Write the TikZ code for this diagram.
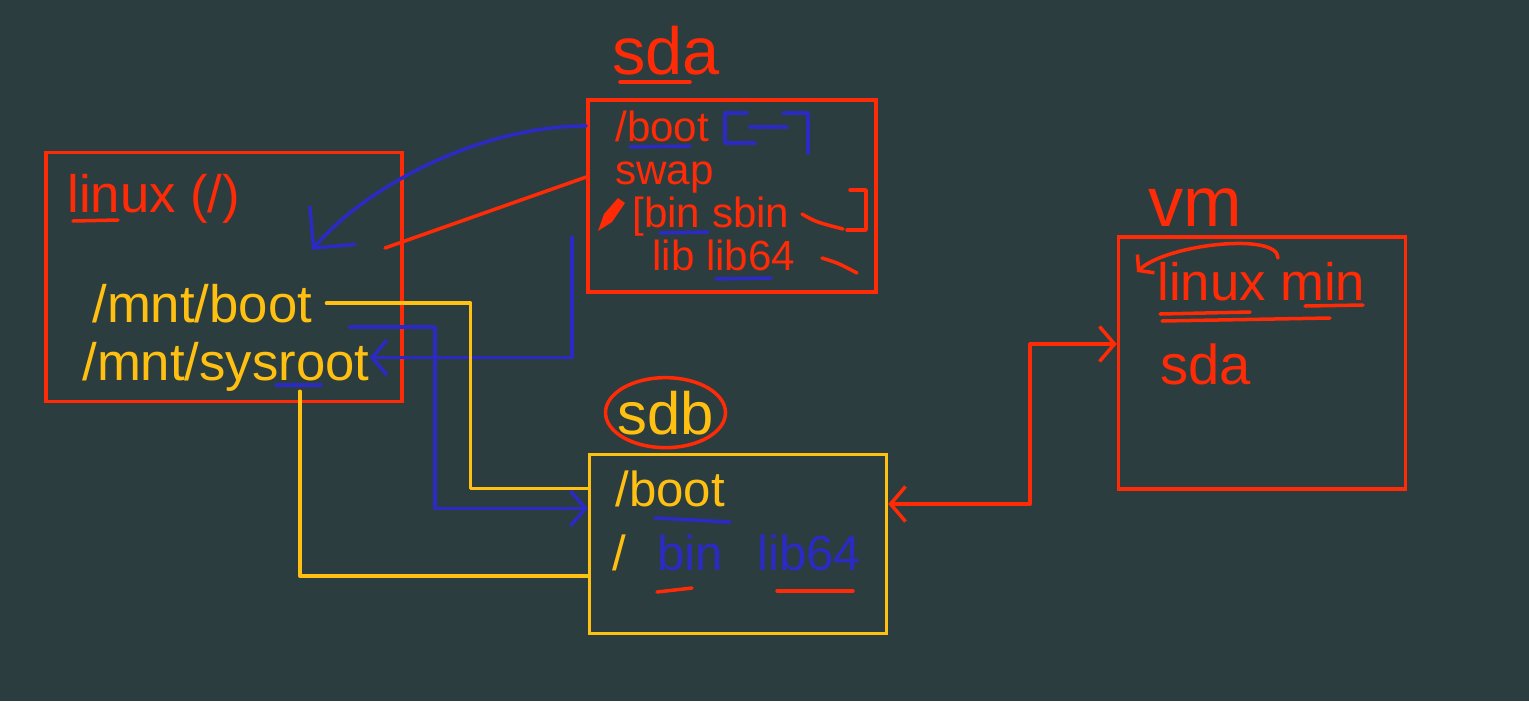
\documentclass[tikz,border=0pt]{standalone}
\usepackage{fontspec}
\setmainfont{Liberation Sans}
\usetikzlibrary{arrows.meta, positioning, calc}
\definecolor{board}{RGB}{43,61,63}
\definecolor{penred}{RGB}{255,42,6}
\definecolor{penyellow}{RGB}{255,192,18}
\definecolor{penblue}{RGB}{44,42,196}
\tikzset{
  redpen/.style={draw=penred, line width=2pt, line cap=round, line join=round},
  yellowpen/.style={draw=penyellow, line width=2pt, line cap=round, line join=round},
  bluepen/.style={draw=penblue, line width=2pt, line cap=round, line join=round},
  disk/.style={rectangle, line width=2pt, inner sep=0pt},
  chalk/.style={inner sep=0pt, anchor=base west},
}
\newcommand{\chalksize}[1]{\fontsize{#1}{#1}\selectfont}

\begin{document}
\begin{tikzpicture}[x=0.02cm, y=-0.02cm, >={Straight Barb[length=3mm,width=7mm]}]
    % lavagna
    \fill[board] (0,0) rectangle (1529,701);
    \useasboundingbox (0,0) rectangle (1529,701);

    % dischi
    \node[disk, draw=penred, minimum width=7.12cm, minimum height=4.98cm] (linuxbox) at (224,277) {};
    \node[disk, draw=penred, minimum width=5.76cm, minimum height=3.84cm] (sdabox) at (732,196) {};
    \node[disk, draw=penyellow, minimum width=5.94cm, minimum height=3.58cm] (sdbbox) at (738,544) {};
    \node[disk, draw=penred, minimum width=5.74cm, minimum height=5.04cm] (vmbox) at (1262,363) {};

    % linux
    \node[chalk, text=penred, font=\chalksize{30}] (linuxlbl) at (67,212) {linux (/)};
    \draw[redpen] (73,221) -- (118,220);
    \node[chalk, text=penyellow, font=\chalksize{30}] (mntboot) at (92,322) {/mnt/boot};
    \node[chalk, text=penyellow, font=\chalksize{30}] (mntroot) at (82,380) {/mnt/sysroot};
    \draw[bluepen] (276,385) -- (321,385);

    % sda
    \node[chalk, text=penred, font=\chalksize{38}] (sdalbl) at (612,74) {sda};
    \draw[redpen] (620,82) -- (690,82);
    \node[chalk, text=penred, font=\chalksize{24}] (sdaboot) at (615,141) {/boot};
    \draw[bluepen] (630,147) -- (690,146);
    \draw[bluepen] (747,113) -- (725,113) -- (725,143) -- (755,143);
    \draw[bluepen] (750,127) -- (787,127);
    \draw[bluepen] (783,113) -- (808,113) -- (808,153);
    \node[chalk, text=penred, font=\chalksize{24}] (sdaswap) at (615,184) {swap};
    \fill[penred] (598,231) -- (604,214) -- (618,198) -- (625,203) -- (612,222) -- cycle;
    \node[chalk, text=penred, font=\chalksize{24}] (sdabin) at (632,227) {[bin sbin};
    \draw[bluepen] (660,233) -- (708,232);
    \draw[redpen] (802,214) .. controls (816,222) .. (843,229);
    \draw[redpen] (850,190) -- (866,190) -- (866,230) -- (847,230);
    \node[chalk, text=penred, font=\chalksize{24}] (sdalib) at (652,270) {lib lib64};
    \draw[bluepen] (716,279) -- (771,278);
    \draw[redpen] (822,258) .. controls (838,263) .. (857,273);

    % sdb
    \node[chalk, text=penyellow, font=\chalksize{34}] (sdblbl) at (617,434) {sdb};
    \draw[redpen] (sdblbl.center) ellipse [x radius=1.2cm, y radius=0.7cm];
    \node[chalk, text=penyellow, font=\chalksize{28}] (sdbboot) at (615,506) {/boot};
    \draw[bluepen] (655,518) -- (730,522);
    \node[chalk, text=penyellow, font=\chalksize{28}] (sdbslash) at (612,570) {/};
    \node[chalk, text=penblue, font=\chalksize{28}] (sdbbin) at (657,570) {bin};
    \node[chalk, text=penblue, font=\chalksize{28}] (sdblib) at (757,570) {lib64};
    \draw[redpen] (657,592) -- (692,588);
    \draw[redpen] (777,591) -- (853,591);

    % vm
    \node[chalk, text=penred, font=\chalksize{40}] (vmlbl) at (1148,226) {vm};
    \node[chalk, text=penred, font=\chalksize{30}] (vmlinux) at (1157,300) {linux min};
    \draw[redpen] (1160,314) -- (1250,312);
    \draw[redpen] (1162,321) -- (1330,318);
    \draw[redpen] (1305,306) -- (1363,305);
    \draw[redpen, >={Straight Barb[length=2mm,width=5mm]}, ->] ($(vmlinux.base west)+(121,-42)$) .. controls +(0,-26) and +(30,-28) .. ($(vmlinux.base west)+(-20,-28)$);
    \node[chalk, text=penred, font=\chalksize{32}] (vmsda) at (1160,384) {sda};

    % collegamenti
    \coordinate (bootdst) at (312,250);
    \coordinate (swapdst) at (385,248);
    \coordinate (rootsrc) at (572,237);
    \coordinate (bootline) at (350,327);
    \draw[bluepen, >={Straight Barb[length=6mm,width=12mm]}, ->] (sdabox.west |- sdaboot.west) .. controls +(-110,0) and +(50,-60) .. (bootdst);
    \draw[redpen] (sdabox.west |- sdaswap.west) -- (swapdst);
    \draw[bluepen, ->] (rootsrc) |- ([yshift=5pt]mntroot.east);
    \draw[yellowpen] ([xshift=8pt]mntboot.east) -- ++(144,0) |- (sdbbox.west |- sdbboot.west);
    \draw[bluepen, ->] (bootline) -- ++(85,0) |- ($(sdbbox.west |- sdbboot.west)+(0,20)$);
    \draw[yellowpen] ($(mntroot.south east)+(-70,0)$) |- ($(sdbbox.west)+(0,32)$);
    \draw[redpen, <->] ($(sdbbox.east)+(0,-40)$) -- ++(142,0) |- ($(vmbox.west)+(0,-19)$);
\end{tikzpicture}
\end{document}
